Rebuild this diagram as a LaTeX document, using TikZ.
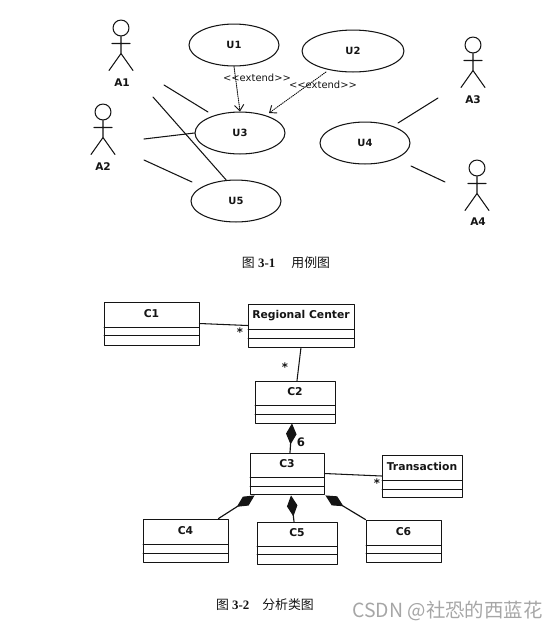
\documentclass[tikz,border=0pt]{standalone}
\usepackage{fontspec}
\setmainfont{DejaVu Sans}
\newfontfamily\capfont{Liberation Serif}
\newfontfamily\cjkfont{Noto Sans CJK SC}
\usetikzlibrary{arrows.meta,calc,positioning,shapes.geometric}
\usepackage{xcolor}
\definecolor{ink}{HTML}{141414}
\definecolor{wmark}{HTML}{A6A6A6}
\tikzset{
  >=Latex,
  usecase/.style={draw=ink,ellipse,line width=0.9pt,inner sep=0pt,minimum width=76.8pt,
                  minimum height=35.8pt,font=\fontsize{8.5}{10}\bfseries,text=ink},
  classbox/.style={draw=ink,line width=0.7pt,inner sep=0pt},
  classname/.style={font=\fontsize{9.2}{11}\bfseries,text=ink,inner sep=0pt},
  actorname/.style={font=\fontsize{9}{11}\bfseries,text=ink,inner sep=0pt},
  assoc/.style={draw=ink,line width=0.9pt},
  extendarrow/.style={draw=ink,line width=0.8pt,densely dotted,-{Straight Barb[length=5pt,width=8pt]}},
  whole/.style={draw=ink,line width=1pt,{Diamond[length=18pt,width=9pt]}-},
  stereo/.style={font=\fontsize{8.5}{10}\selectfont,text=ink,inner sep=0pt},
  multi/.style={font=\fontsize{10}{12}\bfseries,text=ink,inner sep=0pt},
  caption/.style={font=\fontsize{11}{13}\capfont\bfseries,text=ink,inner sep=0pt},
  watermark/.style={font=\fontsize{16.6}{18}\cjkfont,text=wmark,inner sep=0pt}
}
% name, text, left, top, right, bottom, first rule, second rule
\newcommand{\classnode}[8]{
  \node[classbox,minimum width=#5*0.03cm-#3*0.03cm,minimum height=#6*0.03cm-#4*0.03cm]
    (#1) at ({(#3+#5)/2},{(#4+#6)/2}) {};
  \draw[classbox] (#3,#7)--(#5,#7) (#3,#8)--(#5,#8);
  \node[classname] (#1name) at ({(#3+#5)/2},{(#4+#7)/2-1}) {#2};
}
% name, text, head x, head y, label x, label y
\newcommand{\actornode}[6]{
  \node[circle,draw=ink,line width=0.9pt,inner sep=0pt,minimum size=13.6pt] (#1head) at (#3,#4) {};
  \draw[assoc] (#1head.south)--++(0,17) coordinate (#1hip)
    (#1hip)--++(-12,17) (#1hip)--++(12,17)
    ($(#1head.south)+(-9,7)$)--++(18,0);
  \node[actorname] (#1name) at (#5,#6) {#2};
}
\begin{document}
\begin{tikzpicture}[x=0.03cm,y=-0.03cm,line cap=round,line join=round]
  \useasboundingbox (0,0) rectangle (559,630);

  % Use cases
  \node[usecase] (u1) at (234,45) {U1};
  \node[usecase,minimum width=87pt] (u2) at (353,51) {U2};
  \node[usecase] (u3) at (240,133) {U3};
  \node[usecase] (u4) at (365,143) {U4};
  \node[usecase] (u5) at (236,201) {U5};

  % Actors
  \actornode{a1}{A1}{121}{28}{122}{83}
  \actornode{a2}{A2}{103}{112}{103}{167}
  \actornode{a3}{A3}{473}{45}{473}{100}
  \actornode{a4}{A4}{477}{168}{478}{222}

  \coordinate (a1end) at (164,85);
  \coordinate (a1low) at (153,97);
  \coordinate (a2mid) at (144,139);
  \coordinate (a2low) at (144,160);
  \coordinate (u3top) at (208,112);
  \coordinate (u5top) at (192,182);
  \coordinate (a3end) at (438,98);
  \coordinate (u4top) at (398,123);
  \coordinate (u4low) at (411,166);
  \coordinate (a4end) at (445,182);
  \coordinate (u2low) at (326,72);
  \coordinate (u3right) at (269,113);

  \draw[assoc] (a1end)--(u3top);
  \draw[assoc] (a1low)--(u5.115);
  \draw[assoc] (a2mid)--(u3.west);
  \draw[assoc] (a2low)--(u5top);
  \draw[assoc] (a3end)--(u4top);
  \draw[assoc] (u4low)--(a4end);

  \draw[extendarrow] (u1.south)--(u3.north);
  \draw[extendarrow] (u2low)--(u3right);
  \node[stereo] (ext1) at (257,78) {<{}<extend>{}>};
  \node[stereo] (ext2) at (323,85) {<{}<extend>{}>};

  \node[caption] (cap1) at (286,263) {{\cjkfont\mdseries 图} 3-1\quad\ {\cjkfont\mdseries 用例图}};

  % Classes
  \classnode{c1}{C1}{104}{302}{199}{345}{327}{335}
  \classnode{rc}{Regional Center}{248}{304}{354}{347}{329}{338}
  \classnode{c2}{C2}{255}{381}{335}{423}{405}{414}
  \classnode{c3}{C3}{250}{453}{324}{494}{477}{486}
  \classnode{tr}{Transaction}{382}{455}{462}{497}{480}{489}
  \classnode{c4}{C4}{143}{519}{228}{562}{544}{553}
  \classnode{c5}{C5}{257}{522}{337}{564}{546}{554}
  \classnode{c6}{C6}{366}{520}{441}{562}{545}{553}

  \draw[assoc] (c1.east)--(rc.west);
  \draw[assoc] (rc.south)--($(c2.north)+(2,0)$);
  \draw[assoc] (c3.east)--(tr.west);
  \draw[whole] ($(c2.south)+(-3,0)$)--($(c3.north)+(3,0)$);
  \draw[whole] ($(c3.south west)+(5,1)$)--($(c4.north east)+(-10,0)$);
  \draw[whole] ($(c3.south)+(4,1)$)--($(c5.north)+(-3,0)$);
  \draw[whole] ($(c3.south east)+(1,1)$)--(c6.north west);

  \node[multi] (star1) at (240,332) {*};
  \node[multi] (star2) at (285,367) {*};
  \node[multi] (star3) at (377,483) {*};
  \node[multi,font=\fontsize{10}{12}\bfseries] (six) at (301,442) {6};

  \node[caption] (cap2) at (265,605) {{\cjkfont\mdseries 图} 3-2\quad {\cjkfont\mdseries 分析类图}};
  \node[watermark,anchor=east] (wm) at (543,611) {CSDN @社恐的西蓝花};
\end{tikzpicture}
\end{document}
